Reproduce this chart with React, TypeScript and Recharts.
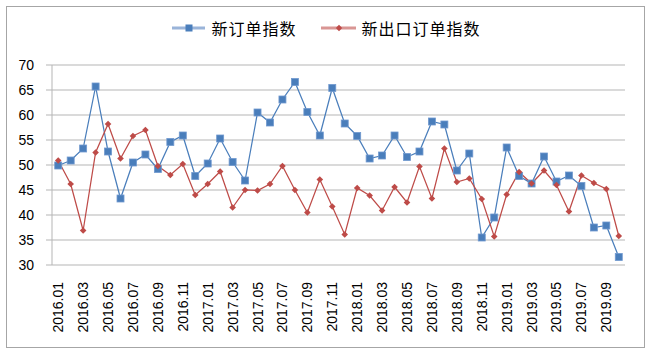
import { CartesianGrid, Legend, Line, LineChart, XAxis, YAxis } from "recharts";

const months = [
  "2016.01", "2016.02", "2016.03", "2016.04", "2016.05", "2016.06", "2016.07", "2016.08", "2016.09", "2016.10", "2016.11", "2016.12",
  "2017.01", "2017.02", "2017.03", "2017.04", "2017.05", "2017.06", "2017.07", "2017.08", "2017.09", "2017.10", "2017.11", "2017.12",
  "2018.01", "2018.02", "2018.03", "2018.04", "2018.05", "2018.06", "2018.07", "2018.08", "2018.09", "2018.10", "2018.11", "2018.12",
  "2019.01", "2019.02", "2019.03", "2019.04", "2019.05", "2019.06", "2019.07", "2019.08", "2019.09", "2019.10",
];

// 新订单指数
const newOrders = [
  49.9, 50.9, 53.3, 65.7, 52.7, 43.3, 50.5, 52.1, 49.2, 54.6, 55.9, 47.8,
  50.3, 55.3, 50.6, 46.9, 60.5, 58.5, 63.1, 66.6, 60.6, 55.9, 65.4, 58.3,
  55.8, 51.3, 51.9, 55.9, 51.6, 52.7, 58.7, 58.1, 48.9, 52.3, 35.5, 39.5,
  53.5, 47.8, 46.3, 51.7, 46.7, 47.9, 45.8, 37.5, 37.9, 31.6,
];

// 新出口订单指数
const newExportOrders = [
  50.9, 46.2, 36.9, 52.5, 58.2, 51.3, 55.8, 57.0, 49.8, 48.0, 50.2, 44.0,
  46.2, 48.7, 41.5, 45.0, 44.9, 46.2, 49.8, 45.0, 40.5, 47.1, 41.7, 36.1,
  45.4, 43.9, 40.9, 45.6, 42.5, 49.7, 43.3, 53.3, 46.6, 47.3, 43.2, 35.7,
  44.1, 48.6, 46.3, 48.9, 46.0, 40.7, 47.9, 46.4, 45.2, 35.8,
];

const yTicks = [30, 35, 40, 45, 50, 55, 60, 65, 70];
const edgeTicks = months.map((_, i) => i).concat(months.length);

const data = months.map((m, i) => ({ month: m, a: newOrders[i], b: newExportOrders[i] }));

const BLUE = "#4a7ebb";
const RED = "#be4b48";
const GRID = "#b5b5b5";
const LATIN = "'Liberation Sans', Arial, sans-serif";
const CJK = "'Noto Sans CJK SC', sans-serif";

function MonthTick({ x, y, payload }: any) {
  return (
    <g transform={`translate(${x},${y})`}>
      <text
        transform="rotate(-90)"
        textAnchor="end"
        dy={5}
        fontSize={14}
        fontFamily={LATIN}
        fill="#000"
      >
        {payload.value}
      </text>
    </g>
  );
}

function SquareDot(p: any) {
  if (p.cx == null || p.cy == null) return <g key={`s${p.index}`} />;
  return (
    <rect
      key={`s${p.index}`}
      x={p.cx - 3.5}
      y={p.cy - 3.5}
      width={7}
      height={7}
      fill={BLUE}
      stroke="#7199cf"
      strokeWidth={0.8}
    />
  );
}

function DiamondDot(p: any) {
  if (p.cx == null || p.cy == null) return <g key={`d${p.index}`} />;
  const r = 3.3;
  return (
    <polygon
      key={`d${p.index}`}
      points={`${p.cx},${p.cy - r} ${p.cx + r},${p.cy} ${p.cx},${p.cy + r} ${p.cx - r},${p.cy}`}
      fill={RED}
    />
  );
}

function LegendBox() {
  return (
    <div
      style={{
        display: "flex",
        justifyContent: "center",
        alignItems: "center",
        fontFamily: CJK,
        fontSize: 16,
        letterSpacing: 1,
        color: "#000",
        lineHeight: "20px",
      }}
    >
      <svg width={33} height={10}>
        <line x1={0} y1={5} x2={33} y2={5} stroke="#9ab4d9" strokeWidth={3} />
        <rect x={13.5} y={1.5} width={7} height={7} fill={BLUE} />
      </svg>
      <span style={{ marginLeft: 6 }}>新订单指数</span>
      <svg width={35} height={10} style={{ marginLeft: 24 }}>
        <line x1={0} y1={5} x2={35} y2={5} stroke="#d99694" strokeWidth={3} />
        <polygon points="18,1.8 21.2,5 18,8.2 14.8,5" fill={RED} />
      </svg>
      <span style={{ marginLeft: 6 }}>新出口订单指数</span>
    </div>
  );
}

export default function App() {
  return (
    <div style={{ position: "absolute", left: 0, top: 0, width: 653, height: 355, background: "#fff" }}>
      <div
        style={{
          position: "absolute",
          left: 6,
          top: 6,
          width: 637,
          height: 340,
          border: "1px solid #a6a6a6",
        }}
      />
      <LineChart
        width={653}
        height={355}
        data={data}
        margin={{ top: 65, right: 28, bottom: 0, left: 0 }}
        style={{ position: "absolute", left: 0, top: 0 }}
      >
        <CartesianGrid xAxisId="cat" vertical={false} stroke={GRID} />
        <XAxis
          xAxisId="edge"
          type="number"
          domain={[0, months.length]}
          ticks={edgeTicks}
          interval={0}
          height={0}
          tickFormatter={() => ""}
          tickSize={5}
          axisLine={{ stroke: GRID }}
          tickLine={{ stroke: GRID }}
        />
        <XAxis
          xAxisId="cat"
          dataKey="month"
          scale="band"
          interval={1}
          height={90}
          axisLine={false}
          tickLine={false}
          tickSize={0}
          tickMargin={17}
          tick={<MonthTick />}
        />
        <YAxis
          domain={[30, 70]}
          ticks={yTicks}
          interval={0}
          width={52}
          tickSize={6}
          tickMargin={12}
          axisLine={{ stroke: GRID }}
          tickLine={{ stroke: GRID }}
          tick={{ fill: "#000", fontSize: 14, fontFamily: LATIN }}
        />
        <Legend
          verticalAlign="middle"
          align="center"
          layout="horizontal"
          content={<LegendBox />}
          wrapperStyle={{ top: 18, left: 0, width: 653, height: 20 }}
        />
        <Line
          xAxisId="cat"
          dataKey="a"
          name="新订单指数"
          stroke={BLUE}
          strokeWidth={1.25}
          dot={SquareDot}
          activeDot={false}
          isAnimationActive={false}
        />
        <Line
          xAxisId="cat"
          dataKey="b"
          name="新出口订单指数"
          stroke={RED}
          strokeWidth={1.25}
          dot={DiamondDot}
          activeDot={false}
          isAnimationActive={false}
        />
      </LineChart>
    </div>
  );
}
